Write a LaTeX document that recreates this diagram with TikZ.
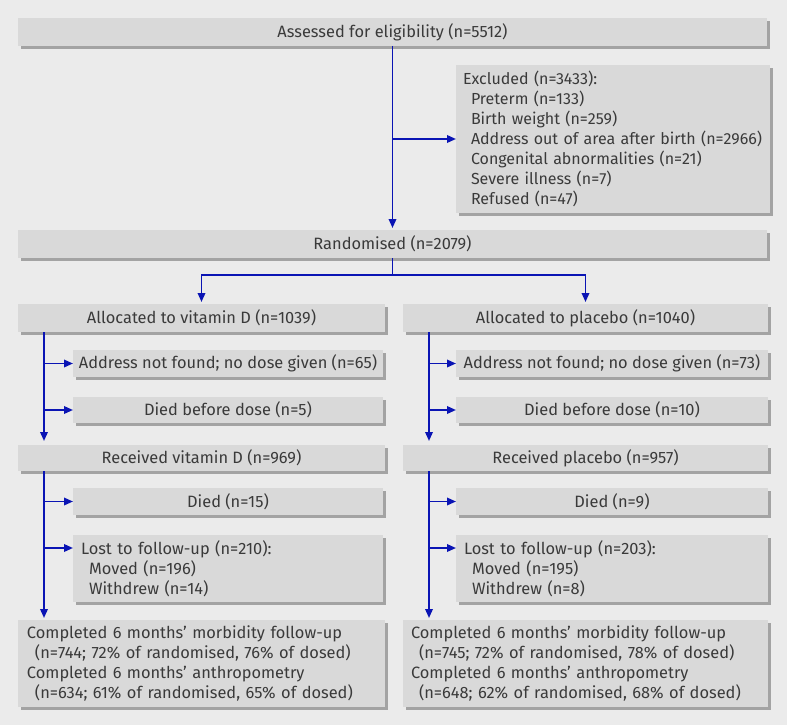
\documentclass[tikz,border=0pt]{standalone}
\usepackage{fontspec}
\setmainfont{Fira Sans}
\usetikzlibrary{arrows.meta,shadows,calc}
\definecolor{bg}{HTML}{EBEBEB}
\definecolor{boxfill}{HTML}{D9D9D9}
\definecolor{shade}{HTML}{A3A3A3}
\definecolor{arrblue}{HTML}{0A14B4}
\definecolor{txt}{HTML}{3A3A3A}
\begin{document}
\begin{tikzpicture}[x=1pt,y=-1pt,
  box/.style={anchor=north west, fill=boxfill, inner sep=0pt, outer sep=0pt,
    text=txt, font=\fontsize{16.4}{20}\selectfont,
    drop shadow={shadow xshift=3pt, shadow yshift=-3pt, fill=shade, opacity=1}},
  lbox/.style={box, align=left, inner xsep=7pt},
  arr/.style={draw=arrblue, line width=1.8pt, -{Triangle[length=9pt,width=7.5pt]}},
  ln/.style={draw=arrblue, line width=1.8pt}]
\fill[bg] (0,0) rectangle (787,725);
\useasboundingbox (0,0) rectangle (787,725);

\node[box, minimum width=749pt, minimum height=28pt] (assess) at (18,18) {Assessed for eligibility (n=5512)};
\node[lbox, text width=300pt, minimum height=148pt, font=\fontsize{16}{20}\selectfont] (excl) at (456,65) {Excluded (n=3433):\\
\hspace*{8pt}Preterm (n=133)\\
\hspace*{8pt}Birth weight (n=259)\\
\hspace*{8pt}\makebox[0pt][l]{Address out of area after birth (n=2966)}\\
\hspace*{8pt}Congenital abnormalities (n=21)\\
\hspace*{8pt}Severe illness (n=7)\\
\hspace*{8pt}Refused (n=47)};
\node[box, minimum width=749pt, minimum height=28pt] (rand) at (18,230) {Randomised (n=2079)};

\node[box, minimum width=367pt, minimum height=28pt] (allocVD) at (18,304) {Allocated to vitamin D (n=1039)};
\node[box, minimum width=365pt, minimum height=28pt] (allocPL) at (403,304) {Allocated to placebo (n=1040)};

\node[box, minimum width=310pt, minimum height=27pt] (addrVD) at (73,350) {Address not found; no dose given (n=65)};
\node[box, minimum width=312pt, minimum height=27pt] (addrPL) at (456,350) {Address not found; no dose given (n=73)};
\node[box, minimum width=310pt, minimum height=26pt] (diedbVD) at (73,397) {Died before dose (n=5)};
\node[box, minimum width=312pt, minimum height=26pt] (diedbPL) at (456,397) {Died before dose (n=10)};

\node[box, minimum width=367pt, minimum height=26pt] (recVD) at (18,445) {Received vitamin D (n=969)};
\node[box, minimum width=365pt, minimum height=26pt] (recPL) at (403,445) {Received placebo (n=957)};

\node[box, minimum width=310pt, minimum height=27pt] (diedVD) at (73,488) {Died (n=15)};
\node[box, minimum width=312pt, minimum height=27pt] (diedPL) at (456,488) {Died (n=9)};

\node[lbox, inner xsep=8pt, text width=294pt, minimum height=67pt] (lostVD) at (73,535) {Lost to follow-up (n=210):\\
\hspace*{8pt}Moved (n=196)\\
\hspace*{8pt}Withdrew (n=14)};
\node[lbox, inner xsep=8pt, text width=296pt, minimum height=67pt] (lostPL) at (456,535) {Lost to follow-up (n=203):\\
\hspace*{8pt}Moved (n=195)\\
\hspace*{8pt}Withdrew (n=8)};

\node[lbox, inner xsep=9pt, text width=349pt, minimum height=87pt] (compVD) at (18,620) {Completed 6 months’ morbidity follow-up\\
\hspace*{8pt}(n=744; 72\% of randomised, 76\% of dosed)\\
Completed 6 months’ anthropometry\\
\hspace*{8pt}(n=634; 61\% of randomised, 65\% of dosed)};
\node[lbox, inner xsep=8pt, text width=349pt, minimum height=87pt] (compPL) at (403,620) {Completed 6 months’ morbidity follow-up\\
\hspace*{8pt}(n=745; 72\% of randomised, 78\% of dosed)\\
Completed 6 months’ anthropometry\\
\hspace*{8pt}(n=648; 62\% of randomised, 68\% of dosed)};

% connectors
\draw[arr] (assess.south) -- ($(rand.north)+(0,-2)$);
\draw[arr] (assess.south |- excl.west) -- (excl.west);
\draw[ln] (rand.south) -- ++(0,17) coordinate (sp);
\draw[arr] (sp) -| ($(allocVD.north)+(0,-2)$);
\draw[arr] (sp) -| ($(allocPL.north)+(0,-2)$);

% left spine
\coordinate (lA) at ($(allocVD.south west)+(26,0)$);
\draw[arr] (lA) -- ($(lA |- recVD.north)+(0,-4)$);
\draw[arr] (lA |- addrVD.west) -- (addrVD.west);
\draw[arr] (lA |- diedbVD.west) -- (diedbVD.west);
\coordinate (lB) at ($(recVD.south west)+(26,0)$);
\draw[arr] (lB) -- ($(lB |- compVD.north)+(0,-2)$);
\draw[arr] (lB |- diedVD.west) -- (diedVD.west);
\coordinate (lL) at ($(lostVD.north west)+(0,13)$);
\draw[arr] (lB |- lL) -- (lL);

% right spine
\coordinate (rA) at ($(allocPL.south west)+(26,0)$);
\draw[arr] (rA) -- ($(rA |- recPL.north)+(0,-4)$);
\draw[arr] (rA |- addrPL.west) -- (addrPL.west);
\draw[arr] (rA |- diedbPL.west) -- (diedbPL.west);
\coordinate (rB) at ($(recPL.south west)+(26,0)$);
\draw[arr] (rB) -- ($(rB |- compPL.north)+(0,-2)$);
\draw[arr] (rB |- diedPL.west) -- (diedPL.west);
\coordinate (rL) at ($(lostPL.north west)+(0,13)$);
\draw[arr] (rB |- rL) -- (rL);
\end{tikzpicture}
\end{document}
